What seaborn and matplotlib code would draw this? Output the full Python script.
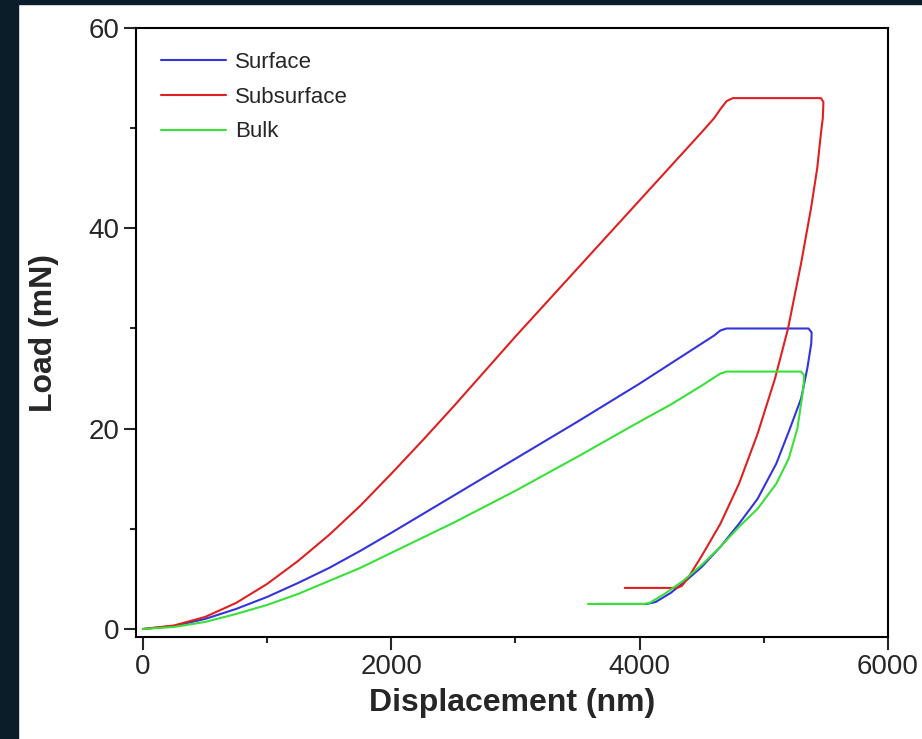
import matplotlib
matplotlib.use("Agg")
import matplotlib.pyplot as plt
from matplotlib.patches import Rectangle
from matplotlib.ticker import MultipleLocator
import seaborn as sns
import pandas as pd

# load-displacement curves (nm, mN)
surface_x = [0, 250, 500, 750, 1000, 1250, 1500, 1750, 2000, 2500, 3000, 3500, 4000, 4250,
             4500, 4600, 4650, 4700, 5000, 5360, 5385, 5382, 5350, 5300, 5210, 5100, 4950,
             4800, 4650, 4500, 4380, 4250, 4130, 4060, 3656]
surface_y = [0, 0.3, 1.0, 2.0, 3.2, 4.6, 6.1, 7.8, 9.6, 13.3, 17.0, 20.7, 24.5, 26.5,
             28.5, 29.3, 29.8, 30.0, 30.0, 30.0, 29.6, 28.5, 26.0, 23.0, 20.0, 16.5, 13.0,
             10.5, 8.2, 6.2, 4.9, 3.6, 2.7, 2.5, 2.5]

subsurface_x = [0, 250, 500, 750, 1000, 1250, 1500, 1750, 2000, 2250, 2500, 2750, 3000,
                3250, 3500, 3750, 4000, 4250, 4500, 4600, 4650, 4700, 4750, 5000, 5460,
                5480, 5475, 5460, 5430, 5380, 5300, 5195, 5090, 4950, 4800, 4650, 4500,
                4400, 4340, 4300, 3880]
subsurface_y = [0, 0.35, 1.2, 2.6, 4.5, 6.8, 9.4, 12.3, 15.5, 18.8, 22.2, 25.7, 29.2,
                32.6, 36.0, 39.4, 42.8, 46.2, 49.6, 51.0, 51.9, 52.7, 53.0, 53.0, 53.0,
                52.6, 51.0, 49.5, 46.0, 42.0, 36.5, 30.0, 25.0, 19.5, 14.5, 10.5, 7.3,
                5.3, 4.3, 4.1, 4.1]

bulk_x = [0, 250, 500, 750, 1000, 1250, 1500, 1750, 2000, 2500, 3000, 3500, 4000, 4250,
          4500, 4600, 4650, 4700, 5000, 5300, 5325, 5318, 5300, 5270, 5200, 5100, 4950,
          4800, 4650, 4500, 4350, 4200, 4080, 4040, 3584]
bulk_y = [0, 0.2, 0.7, 1.5, 2.4, 3.5, 4.8, 6.1, 7.6, 10.6, 13.8, 17.2, 20.7, 22.4,
          24.3, 25.1, 25.5, 25.7, 25.7, 25.7, 25.3, 24.0, 22.5, 20.0, 17.0, 14.5, 12.0,
          10.2, 8.2, 6.4, 4.8, 3.5, 2.6, 2.5, 2.5]

series = ["Surface", "Subsurface", "Bulk"]
colors = {"Surface": "#3434dc", "Subsurface": "#e02020", "Bulk": "#38e038"}

frames = []
for name, xs, ys in [("Surface", surface_x, surface_y),
                     ("Subsurface", subsurface_x, subsurface_y),
                     ("Bulk", bulk_x, bulk_y)]:
    frames.append(pd.DataFrame({"disp": xs, "load": ys, "sample": name}))
df = pd.concat(frames, ignore_index=True)

sns.set_style("ticks")
plt.rcParams["font.family"] = ["Liberation Sans", "DejaVu Sans"]

fig = plt.figure(figsize=(9.22, 7.39), dpi=100)
fig.patch.set_facecolor("white")
fig.patches.append(Rectangle((0, 0), 18 / 922, 1, transform=fig.transFigure,
                             color="#0b1d29", zorder=0))
fig.patches.append(Rectangle((0, 1 - 4 / 739), 1, 4 / 739, transform=fig.transFigure,
                             color="#0b1d29", zorder=0))

ax = fig.add_axes([136 / 922, 1 - 637 / 739, (888 - 136) / 922, (637 - 28) / 739])
sns.lineplot(data=df, x="disp", y="load", hue="sample", hue_order=series,
             palette=colors, sort=False, estimator=None, linewidth=1.5, ax=ax)

ax.set_xlim(-56, 6000)
ax.set_ylim(-0.8, 60)
ax.xaxis.set_major_locator(MultipleLocator(2000))
ax.xaxis.set_minor_locator(MultipleLocator(1000))
ax.yaxis.set_major_locator(MultipleLocator(20))
ax.yaxis.set_minor_locator(MultipleLocator(10))
ax.tick_params(which="major", direction="out", length=9, width=1.5, labelsize=20, pad=3)
ax.tick_params(which="minor", direction="out", length=4.5, width=1.5)
for s in ax.spines.values():
    s.set_visible(True)
    s.set_linewidth(1.5)
    s.set_color("black")

ax.set_xlabel("Displacement (nm)", fontsize=23, fontweight="bold", labelpad=6)
ax.set_ylabel("Load (mN)", fontsize=23, fontweight="bold", labelpad=21)

leg = ax.legend(loc="upper left", frameon=False, fontsize=16, handlelength=2.95,
                handletextpad=0.4, labelspacing=0.62, borderaxespad=0.4,
                bbox_to_anchor=(0.009, 0.99))

fig.savefig("out.png", dpi=100, facecolor=fig.get_facecolor())
